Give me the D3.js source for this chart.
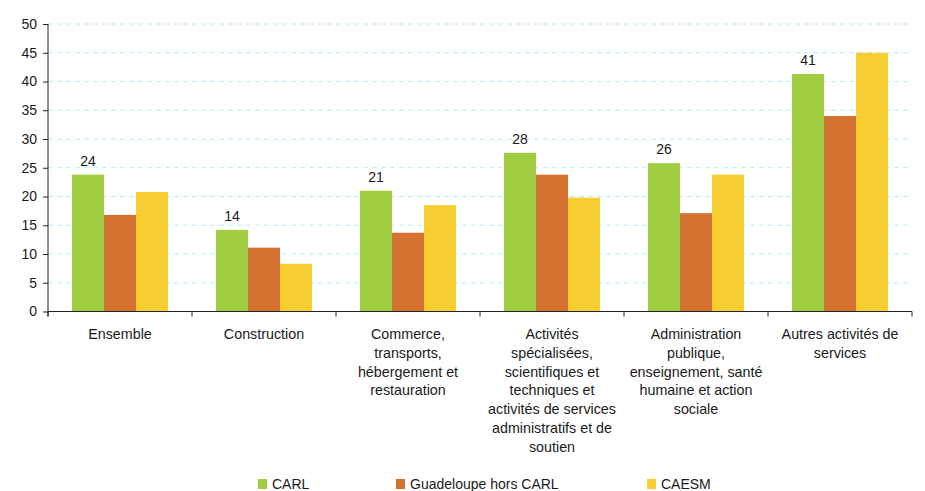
<!DOCTYPE html>
<html>
<head>
<meta charset="utf-8">
<script src="https://cdn.jsdelivr.net/npm/d3@7"></script>
<style>
  body { margin: 0; background: #fff; }
  text { font-family: "Liberation Sans", Arial, sans-serif; fill: #1a1a1a; }
</style>
</head>
<body>
<div id="chart"></div>
<script>
const categories = ['Ensemble', 'Construction', 'Commerce', 'Activites', 'Administration', 'Autres'];
const categoryLines = [
    ['Ensemble'],
    ['Construction'],
    ['Commerce,', 'transports,', 'hébergement et', 'restauration'],
    ['Activités', 'spécialisées,', 'scientifiques et', 'techniques et', 'activités de services', 'administratifs et de', 'soutien'],
    ['Administration', 'publique,', 'enseignement, santé', 'humaine et action', 'sociale'],
    ['Autres activités de', 'services']
];
const series = ['CARL', 'Guadeloupe hors CARL', 'CAESM'];
const carl = [23.8, 14.2, 21.0, 27.6, 25.8, 41.3];
const guadeloupe = [16.8, 11.1, 13.7, 23.8, 17.1, 34.0];
const caesm = [20.8, 8.3, 18.5, 19.8, 23.8, 45.0];
const carlLabels = ['24', '14', '21', '28', '26', '41'];
const yTicks = [0, 5, 10, 15, 20, 25, 30, 35, 40, 45, 50];
const colors = ['#A0CD41', '#D57230', '#F9CE32'];

const width = 925;
const height = 491;
const margin = {top: 24, right: 13, bottom: 179.5, left: 48};
const values = [carl, guadeloupe, caesm];

const svg = d3.select('#chart')
.append('svg')
.attr('width', width)
.attr('height', height);

const x0 = d3.scaleBand()
.domain(categories)
.range([margin.left, width - margin.right]);

const x1 = d3.scaleBand()
.domain(series)
.range([0, x0.bandwidth()])
.paddingOuter(0.75);

const y = d3.scaleLinear()
.domain([0, 50])
.range([height - margin.bottom, margin.top]);

const color = d3.scaleOrdinal().domain(series).range(colors);

// dashed gridlines
svg.append('g')
.selectAll('line')
.data(yTicks.filter(d => d > 0))
.enter()
.append('line')
.attr('x1', margin.left)
.attr('x2', width - margin.right)
.attr('y1', d => y(d))
.attr('y2', d => y(d))
.attr('stroke', '#B4EEFB')
.attr('stroke-width', 1)
.attr('stroke-dasharray', '5,4');

// bars
const rows = categories.map((c, i) => ({cat: c, i: i}));
const group = svg.append('g')
.selectAll('g')
.data(rows)
.enter()
.append('g')
.attr('transform', d => `translate(${x0(d.cat)},0)`);

group.selectAll('rect')
.data(d => series.map((s, k) => ({s: s, v: values[k][d.i]})))
.enter()
.append('rect')
.attr('x', d => x1(d.s))
.attr('width', x1.bandwidth())
.attr('y', d => y(d.v))
.attr('height', d => y(0) - y(d.v))
.attr('fill', d => color(d.s));

group.append('text')
.attr('x', x1('CARL') + x1.bandwidth() / 2)
.attr('y', d => y(carl[d.i]) - 9)
.attr('text-anchor', 'middle')
.style('font-size', '14px')
.text(d => carlLabels[d.i]);

// y axis
const yAxis = d3.axisLeft(y)
.tickValues(yTicks)
.tickSize(5)
.tickPadding(6)
.tickSizeOuter(0);

const gy = svg.append('g')
.attr('transform', `translate(${margin.left},0)`)
.call(yAxis);
gy.select('.domain').remove();
gy.selectAll('.tick line').attr('stroke', '#222');
gy.selectAll('.tick text')
.style('font-size', '14px')
.style('font-family', '"Liberation Sans", Arial, sans-serif')
.attr('fill', '#1a1a1a');
gy.append('line')
.attr('x1', 0).attr('x2', 0)
.attr('y1', margin.top).attr('y2', y(0) + 5)
.attr('stroke', '#222');

// x axis
const gx = svg.append('g');
gx.append('line')
.attr('x1', margin.left)
.attr('x2', width - margin.right)
.attr('y1', y(0))
.attr('y2', y(0))
.attr('stroke', '#222');
const bounds = categories.map(c => x0(c)).concat([width - margin.right]);
gx.selectAll('.xt')
.data(bounds)
.enter()
.append('line')
.attr('x1', d => d).attr('x2', d => d)
.attr('y1', y(0)).attr('y2', y(0) + 5)
.attr('stroke', '#222');

const labels = svg.append('g')
.selectAll('text')
.data(rows)
.enter()
.append('text')
.attr('text-anchor', 'middle')
.style('font-size', '14.3px');

labels.selectAll('tspan')
.data(d => categoryLines[d.i].map(t => ({t: t, cat: d.cat})))
.enter()
.append('tspan')
.attr('x', d => x0(d.cat) + x0.bandwidth() / 2)
.attr('y', (d, j) => 339 + j * 18.8)
.text(d => d.t);

// legend
const legendX = [258, 396, 647];
const legend = svg.append('g')
.selectAll('g')
.data(series)
.enter()
.append('g')
.attr('transform', (d, i) => `translate(${legendX[i]},479)`);

legend.append('rect')
.attr('width', 9)
.attr('height', 10)
.attr('fill', d => color(d));

legend.append('text')
.attr('x', 14)
.attr('y', 10)
.style('font-size', '14px')
.text(d => d);
</script>
</body>
</html>
